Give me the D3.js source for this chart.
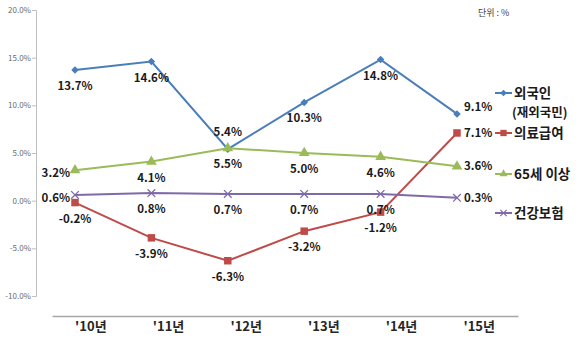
<!DOCTYPE html>
<html><head><meta charset="utf-8">
<script src="https://cdn.jsdelivr.net/npm/d3@7"></script>
<style>body{margin:0;background:#fff}svg{display:block}text{font-family:"Noto Sans CJK KR","Noto Sans",sans-serif}</style>
</head><body><svg id="c" width="580" height="341"></svg>
<script>
const categories = ["'10년","'11년","'12년","'13년","'14년","'15년"];
const foreigners = [13.7,14.6,5.4,10.3,14.8,9.1];
const medicalAid = [-0.2,-3.9,-6.3,-3.2,-1.2,7.1];
const over65 = [3.2,4.1,5.5,5.0,4.6,3.6];
const healthIns = [0.6,0.8,0.7,0.7,0.7,0.3];
const yTicks = [20,15,10,5,0,-5,-10];
// label placement per point: b=below, a=above, l=left, r=right
const posForeign = ["b","b","a","b","b","r"];
const posMedical = ["b","b","b","b","b","r"];
const posOver65 = ["l","b","b","b","b","r"];
const posHealth = ["l","b","b","b","b","r"];

const series = [
  {name:"외국인", values:foreigners, pos:posForeign, color:"#4a7ebb", marker:"diamond"},
  {name:"의료급여", values:medicalAid, pos:posMedical, color:"#be4b48", marker:"square"},
  {name:"65세 이상", values:over65, pos:posOver65, color:"#9bbb59", marker:"triangle"},
  {name:"건강보험", values:healthIns, pos:posHealth, color:"#7f6aa8", marker:"x"}
];

const svg = d3.select("#c");
const y = d3.scaleLinear().domain([-10,20]).range([296,10]);
const xPt = d3.scalePoint().domain(categories).range([75,457]);
const xBand = d3.scaleBand().domain(categories).range([52,518]);

// y axis
const yAxis = d3.axisLeft(y).tickValues(yTicks).tickSize(4).tickFormat(d=>d.toFixed(1)+"%");
const yg = svg.append("g").attr("transform","translate(36,0)").call(yAxis);
yg.select(".domain").attr("stroke","#bfbfbf");
yg.selectAll(".tick line").attr("stroke","#bfbfbf");
yg.selectAll(".tick text").attr("fill","#6a6a6a").attr("font-size","8px").attr("x",-5);

// x axis
const xAxis = d3.axisBottom(xBand).tickSize(0).tickPadding(0);
const xg = svg.append("g").attr("transform","translate(0,316)").call(xAxis);
xg.select(".domain").attr("stroke","#a6a6a6").attr("stroke-width",1.5);
xg.selectAll(".tick text").attr("fill","#262626").attr("font-size","13px").attr("font-weight","700").attr("dy","0").attr("y",15);

const symType = {diamond:d3.symbolDiamond2, square:d3.symbolSquare, triangle:d3.symbolTriangle, x:d3.symbolX};
const symSize = {diamond:36, square:56, triangle:50, x:40};

const line = d3.line().x((d,i)=>xPt(categories[i])).y(d=>y(d));

series.forEach(s=>{
  svg.append("path").datum(s.values).attr("d",line).attr("fill","none").attr("stroke",s.color).attr("stroke-width",2);
});
series.forEach(s=>{
  const g = svg.append("g");
  s.values.forEach((v,i)=>{
    const px = xPt(categories[i]), py = y(v);
    const m = g.append("path").attr("d",d3.symbol().type(symType[s.marker]).size(symSize[s.marker])()).attr("transform",`translate(${px},${py})`);
    if(s.marker==="x") m.attr("fill","none").attr("stroke",s.color).attr("stroke-width",1.3);
    else m.attr("fill",s.color);
  });
});
// labels
series.forEach(s=>{
  s.values.forEach((v,i)=>{
    const px = xPt(categories[i]), py = y(v);
    const p = s.pos[i];
    let tx=px, ty=py, anchor="middle";
    if(p==="b"){ty=py+16;}
    else if(p==="a"){ty=py-17;}
    else if(p==="l"){tx=px-5;anchor="end";ty=py+3;}
    else if(p==="r"){tx=px+7;anchor="start";}
    if(s.name==="외국인" && p==="r"){ty=py-7;}
    svg.append("text").attr("x",tx).attr("y",ty).attr("dy","0.35em").attr("text-anchor",anchor)
      .attr("font-size","11.5px").attr("font-weight","700").attr("fill","#1a1a1a")
      .text(v.toFixed(1)+"%");
  });
});

// legend
const legendY = [93,133,174,213];
const legendLbl = ["외국인","의료급여","65세 이상","건강보험"];
series.forEach((s,i)=>{
  const ly = legendY[i];
  svg.append("line").attr("x1",495).attr("x2",512).attr("y1",ly).attr("y2",ly).attr("stroke",s.color).attr("stroke-width",2);
  const m = svg.append("path").attr("d",d3.symbol().type(symType[s.marker]).size(s.marker==="square"?40:28)())
    .attr("transform",`translate(503.5,${ly})`);
  if(s.marker==="x") m.attr("fill","none").attr("stroke",s.color).attr("stroke-width",1.2);
  else m.attr("fill",s.color);
  svg.append("text").attr("x",514).attr("y",ly).attr("dy","0.35em").attr("font-size","13.5px").attr("font-weight","700").attr("fill","#1a1a1a").text(legendLbl[i]);
});
svg.append("text").attr("x",512).attr("y",113).attr("dy","0.35em").attr("font-size","12.5px").attr("font-weight","700").attr("fill","#1a1a1a").text("(재외국민)");

svg.append("text").attr("x",478).attr("y",13).attr("dy","0.35em").attr("font-size","9px").attr("fill","#404040").text("단위 : %");
</script></body></html>
